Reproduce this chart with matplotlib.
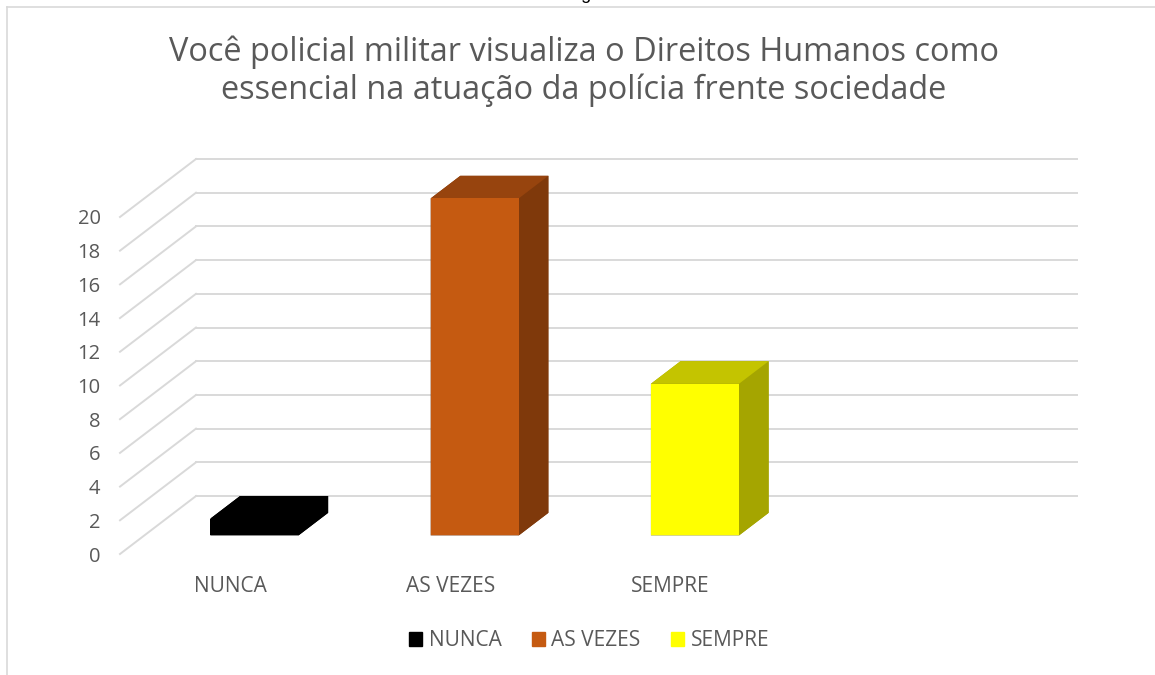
#!/usr/bin/env python3
"""Excel-style 3D column chart: Direitos Humanos na atuação da polícia."""

import matplotlib
matplotlib.use("Agg")
import matplotlib.pyplot as plt
import matplotlib.patches as mpatches
from matplotlib.lines import Line2D

# --------------------------------------------------------------------------- #
# Data
# --------------------------------------------------------------------------- #
CATEGORIES = ["NUNCA", "AS VEZES", "SEMPRE"]
VALUES = [1, 20, 9]
Y_TICKS = list(range(0, 21, 2))
TITLE_LINES = ["Você policial militar visualiza o Direitos Humanos como",
               "essencial na atuação da polícia frente sociedade"]

# --------------------------------------------------------------------------- #
# Styling
# --------------------------------------------------------------------------- #
W_PX, H_PX, DPI = 1155, 675, 100
FONT = ["Open Sans", "DejaVu Sans"]
TEXT_COLOR = "#595959"
GRID_COLOR = "#d9d9d9"
N_SLOTS = 4                 # the category axis leaves room for one empty slot
DEPTH_X, DEPTH_Y = 0.345, 3.44   # floor depth in (category, value) units
BAR_HALF = 0.2
BAR_D0, BAR_D1 = 0.32, 0.71
FRONT = ["#000000", "#C55A11", "#FFFF00"]
TOP = ["#000000", "#97440E", "#C4C400"]
SIDE = ["#000000", "#7F390B", "#A5A500"]


def px_x(x):
    return x / W_PX


def px_y(y):
    return 1 - y / H_PX


def main() -> None:
    plt.rcParams["font.family"] = FONT
    fig = plt.figure(figsize=(W_PX / DPI, H_PX / DPI), dpi=DPI)

    left, right, bottom, top = 120, 1077, 554, 159
    ax = fig.add_axes([px_x(left), px_y(bottom), (right - left) / W_PX,
                       (bottom - top) / H_PX])
    ax.set_xlim(0, N_SLOTS + DEPTH_X)
    ax.set_ylim(0, Y_TICKS[-1] + DEPTH_Y)
    for s in ax.spines.values():
        s.set_visible(False)

    # back wall grid + left wall diagonals
    for v in Y_TICKS:
        ax.plot([DEPTH_X, N_SLOTS + DEPTH_X], [v + DEPTH_Y] * 2,
                color=GRID_COLOR, lw=1.4, clip_on=False, zorder=1)
        ax.plot([0, DEPTH_X], [v, v + DEPTH_Y],
                color=GRID_COLOR, lw=1.4, clip_on=False, zorder=1)

    # 3D bars
    fx0, fy0 = BAR_D0 * DEPTH_X, BAR_D0 * DEPTH_Y
    fx1, fy1 = BAR_D1 * DEPTH_X, BAR_D1 * DEPTH_Y
    for i, v in enumerate(VALUES):
        x0, x1 = i + 0.5 - BAR_HALF, i + 0.5 + BAR_HALF
        front = [(x0 + fx0, fy0), (x1 + fx0, fy0), (x1 + fx0, v + fy0), (x0 + fx0, v + fy0)]
        topf = [(x0 + fx0, v + fy0), (x1 + fx0, v + fy0), (x1 + fx1, v + fy1), (x0 + fx1, v + fy1)]
        side = [(x1 + fx0, fy0), (x1 + fx1, fy1), (x1 + fx1, v + fy1), (x1 + fx0, v + fy0)]
        # silhouette underneath so the face seams do not show white
        outline = [(x0 + fx0, fy0), (x1 + fx0, fy0), (x1 + fx1, fy1),
                   (x1 + fx1, v + fy1), (x0 + fx1, v + fy1), (x0 + fx0, v + fy0)]
        ax.add_patch(mpatches.Polygon(outline, closed=True, facecolor=SIDE[i],
                                      edgecolor="none", zorder=2, clip_on=False))
        for poly, col in ((side, SIDE[i]), (topf, TOP[i]), (front, FRONT[i])):
            ax.add_patch(mpatches.Polygon(poly, closed=True, facecolor=col,
                                          edgecolor="none", zorder=3, clip_on=False))

    ax.set_yticks(Y_TICKS)
    ax.set_yticklabels([str(v) for v in Y_TICKS])
    ax.set_xticks([i + 0.5 for i in range(len(CATEGORIES))])
    ax.set_xticklabels(CATEGORIES)
    ax.tick_params(axis="y", length=0, pad=14, labelsize=14.5, labelcolor=TEXT_COLOR)
    ax.tick_params(axis="x", length=0, pad=16, labelsize=15, labelcolor=TEXT_COLOR)

    # title
    fig.text(px_x(584), px_y(61), TITLE_LINES[0], ha="center", va="baseline",
             fontsize=23.4, color=TEXT_COLOR)
    fig.text(px_x(584), px_y(99), TITLE_LINES[1], ha="center", va="baseline",
             fontsize=23.4, color=TEXT_COLOR)

    # legend
    handles = [mpatches.Patch(facecolor=c, edgecolor=c, label=l)
               for c, l in zip(FRONT, CATEGORIES)]
    fig.legend(handles=handles, loc="center", bbox_to_anchor=(px_x(589), px_y(641)),
               ncol=3, frameon=False, fontsize=15, labelcolor=TEXT_COLOR,
               handlelength=0.65, handleheight=0.65, handletextpad=0.3,
               columnspacing=1.45)

    # chart-area border (top and left edges visible)
    fig.add_artist(Line2D([px_x(7), 1.0], [px_y(7), px_y(7)], color=GRID_COLOR, lw=1.2))
    fig.add_artist(Line2D([px_x(7), px_x(7)], [px_y(7), 0.0], color=GRID_COLOR, lw=1.2))

    # caption cut off at the top edge of the original screenshot
    fig.text(px_x(566), px_y(-1), "Figura", ha="left", va="baseline", fontsize=13,
             color="black", family=["Liberation Sans", "DejaVu Sans"])

    fig.savefig("out.png", dpi=DPI)
    plt.close(fig)


if __name__ == "__main__":
    main()
